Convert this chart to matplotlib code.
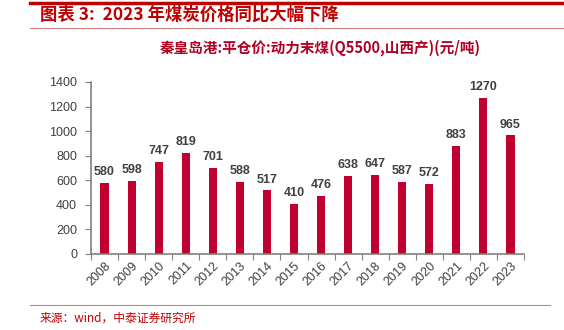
import matplotlib.pyplot as plt
from matplotlib.lines import Line2D

plt.rcParams['font.family'] = ['Noto Sans CJK SC', 'DejaVu Sans']

years = ['2008', '2009', '2010', '2011', '2012', '2013', '2014', '2015',
         '2016', '2017', '2018', '2019', '2020', '2021', '2022', '2023']
prices = [580, 598, 747, 819, 701, 588, 517, 410, 476, 638, 647, 587, 572, 883, 1270, 965]

BAR = '#C0002F'
RED = '#C00000'
GRAY = '#808080'

fig = plt.figure(figsize=(5.64, 3.30), dpi=100)
ax = fig.add_axes([91 / 564, 1 - 254 / 330, 433 / 564, 172 / 330])

x = range(len(years))
ax.bar(x, prices, width=0.3, color=BAR, zorder=2)
for i, v in zip(x, prices):
    ax.text(i, v + 40, str(v), ha='center', va='bottom', fontsize=9,
            fontweight='bold', color='#404040', family=['Liberation Sans', 'DejaVu Sans'])

ax.set_xlim(-0.5, len(years) - 0.5)
ax.set_ylim(0, 1400)
ax.set_yticks(range(0, 1401, 200))
ax.set_xticks([i + 0.5 for i in range(-1, len(years))], minor=False)
ax.set_xticklabels([''] * (len(years) + 1))
ax.set_xticks(list(x), minor=True)
ax.set_xticklabels(years, minor=True, rotation=45, ha='right', rotation_mode='anchor',
                   fontsize=9, color='#404040', family=['Liberation Sans', 'DejaVu Sans'])
ax.tick_params(axis='x', which='minor', length=0, pad=4)
ax.tick_params(axis='x', which='major', length=4, color=GRAY, direction='out')
ax.tick_params(axis='y', length=4, color=GRAY, labelsize=9, labelcolor='#404040', pad=6)
for lab in ax.get_yticklabels():
    lab.set_family(['Liberation Sans', 'DejaVu Sans'])
for s in ['top', 'right']:
    ax.spines[s].set_visible(False)
for s in ['left', 'bottom']:
    ax.spines[s].set_color(GRAY)
    ax.spines[s].set_linewidth(1.2)

# header lines and titles
fig.add_artist(Line2D([30 / 564, 1], [1 - 3 / 330] * 2, color=RED, lw=2.5))
fig.add_artist(Line2D([30 / 564, 1], [1 - 28 / 330] * 2, color='#D08080', lw=0.8))
fig.add_artist(Line2D([30 / 564, 550 / 564], [1 - 305 / 330] * 2, color='#D08080', lw=0.8))
fig.text(40 / 564, 1 - 15 / 330, '图表 3:  2023 年煤炭价格同比大幅下降', fontsize=12.5,
         fontweight='bold', style='italic', color=RED, va='center')
fig.text(320 / 564, 1 - 48 / 330, '秦皇岛港:平仓价:动力末煤(Q5500,山西产)(元/吨)',
         fontsize=10.5, fontweight='bold', color='#B00020', ha='center', va='center')
fig.text(40 / 564, 1 - 318 / 330, '来源：wind，中泰证券研究所', fontsize=8.5,
         color=RED, va='center')

fig.savefig('out.png', dpi=100)
